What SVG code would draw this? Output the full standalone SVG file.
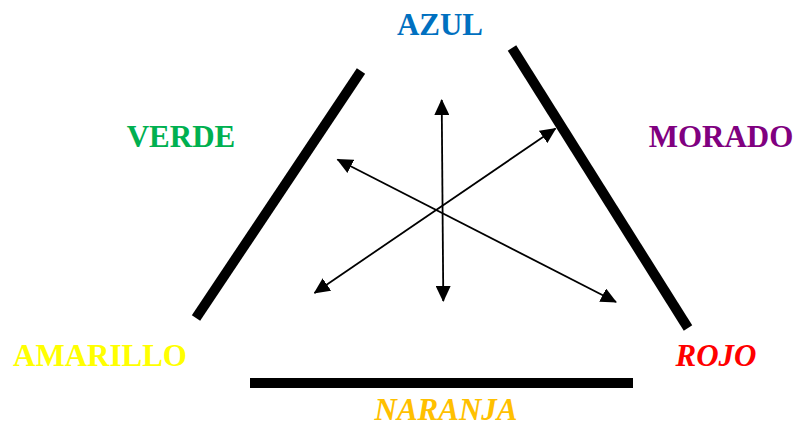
<svg xmlns="http://www.w3.org/2000/svg" width="796" height="426" viewBox="0 0 796 426">
<defs>
<marker id="ah" markerUnits="userSpaceOnUse" markerWidth="16" markerHeight="15" refX="15" refY="7.5" orient="auto-start-reverse" viewBox="0 0 16 15">
<path d="M0,0 L16,7.5 L0,15 z" fill="#000"/>
</marker>
<style>
.t{font-family:"Liberation Serif","Times New Roman",serif;font-weight:bold;font-size:31px;text-anchor:middle}
.i{font-style:italic}
.bar{stroke:#000;stroke-width:10;fill:none}
.arr{stroke:#000;stroke-width:1.8;fill:none;marker-start:url(#ah);marker-end:url(#ah)}
</style>
</defs>
<rect width="796" height="426" fill="#fff"/>
<g id="sides">
<line class="bar" x1="361" y1="71" x2="196" y2="318"/>
<line class="bar" x1="512" y1="48" x2="688" y2="328"/>
<line class="bar" x1="250" y1="383" x2="633" y2="383"/>
</g>
<g id="connectors">
<line class="arr" x1="441.7" y1="100" x2="443.3" y2="301"/>
<line class="arr" x1="337.5" y1="159.5" x2="616" y2="302"/>
<line class="arr" x1="555.5" y1="128.5" x2="314.5" y2="293"/>
</g>
<g id="azul"><text class="t" x="440" y="35" fill="#0070C0">AZUL</text></g>
<g id="verde"><text class="t" x="181" y="147" fill="#00B050">VERDE</text></g>
<g id="morado"><text class="t" x="721" y="147" fill="#800080">MORADO</text></g>
<g id="amarillo"><text class="t" x="100" y="366" fill="#FFFF00">AMARILLO</text></g>
<g id="rojo"><text class="t i" x="716" y="366" fill="#FF0000">ROJO</text></g>
<g id="naranja"><text class="t i" x="446" y="420" fill="#FFC000">NARANJA</text></g>
</svg>
